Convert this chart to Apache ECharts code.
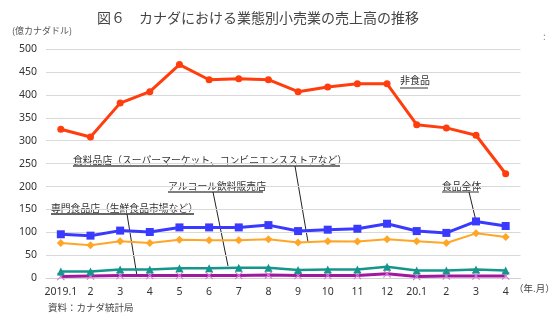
<!DOCTYPE html>
<html><head><meta charset="utf-8">
<script src="https://cdn.jsdelivr.net/npm/echarts@6/dist/echarts.min.js"></script>
<style>html,body{margin:0;padding:0;background:#fff}#c{width:550px;height:322px}</style>
</head><body><div id="c"></div>
<script>
const categories = ['2019.1','2','3','4','5','6','7','8','9','10','11','12','20.1','2','3','4'];
const nonFood   = [325,308,382,407,466,433,435,433,407,417,424,424,335,328,312,228];
const foodTotal = [96,93,104,101,111,111,111,116,103,106,108,119,103,99,124,114];
const foodStore = [77,72,81,77,84,83,83,85,78,81,80,85,81,77,98,90];
const alcohol   = [15,15,19,19,22,22,23,23,18,19,19,25,17,17,19,17];
const specialty = [4,5,6,6,6,6,6,7,6,6,6,10,4,5,5,5];
const yTicks = [0,50,100,150,200,250,300,350,400,450,500];

const JP = '"Noto Sans CJK JP", sans-serif';
const chart = echarts.init(document.getElementById('c'));
const crossPath = 'path://M0,1L1,0L5,4L9,0L10,1L6,5L10,9L9,10L5,6L1,10L0,9L4,5Z';

function mk(name, data, color, width, symbol, size, z, symColor){
  return {name, type:'line', data, z, symbol, symbolSize:size,
    lineStyle:{color, width}, itemStyle:{color: symColor||color, borderWidth:0},
    emphasis:{disabled:true}, animation:false};
}

chart.setOption({
  animation:false,
  grid:{left:46, right:29.5, top:49, bottom:43.7},
  xAxis:{type:'category', data:categories, boundaryGap:true,
    axisLine:{lineStyle:{color:'#d0d0d0'}}, axisTick:{show:false},
    axisLabel:{color:'#333', fontSize:10.5, fontFamily:'"Noto Sans", sans-serif', margin:8, interval:0}},
  yAxis:{type:'value', min:yTicks[0], max:yTicks[yTicks.length-1], interval:50,
    axisLine:{show:false}, axisTick:{show:false},
    splitLine:{lineStyle:{color:'#d9d9d9'}},
    axisLabel:{color:'#333', fontSize:10.5, fontFamily:'"Noto Sans", sans-serif', margin:9}},
  series:[
    mk('非食品', nonFood, '#ff3d0d', 3, 'circle', 7, 5),
    mk('食品全体', foodTotal, '#3a3aff', 3, 'rect', 8, 5),
    mk('食料品店', foodStore, '#ffa626', 2, 'diamond', 8, 4),
    mk('アルコール飲料販売店', alcohol, '#14968c', 2.5, 'triangle', 8, 3),
    mk('専門食品店', specialty, '#a0189f', 3, crossPath, 8, 2, '#d27bd2'),
  ],
  graphic:[
    {type:'text', x:97, y:11, style:{text:'図６　カナダにおける業態別小売業の売上高の推移', font:'14px '+JP, fill:'#444'}},
    {type:'text', x:12, y:26, style:{text:'(億カナダドル)', font:'9px '+JP, fill:'#555'}},
    {type:'text', x:543, y:31, style:{text:':', font:'10px '+JP, fill:'#888'}},
    {type:'text', x:514, y:284, style:{text:'（年.月）', font:'9.5px '+JP, fill:'#444'}},
    {type:'text', x:48, y:303, style:{text:'資料：カナダ統計局', font:'9.5px '+JP, fill:'#444'}},
    // annotations
    {type:'text', x:400, y:75, style:{text:'非食品', font:'10px '+JP, fill:'#333'}},
    {type:'line', shape:{x1:400,y1:88,x2:428,y2:88}, style:{stroke:'#333', lineWidth:1}},
    {type:'text', x:73, y:155, style:{text:'食料品店（スーパーマーケット、コンビニエンスストアなど）', font:'9.8px '+JP, fill:'#333'}},
    {type:'line', shape:{x1:73,y1:166,x2:340,y2:166}, style:{stroke:'#777', lineWidth:2}},
    {type:'line', shape:{x1:295,y1:166,x2:308,y2:242}, style:{stroke:'#222', lineWidth:1}},
    {type:'text', x:168, y:181, style:{text:'アルコール飲料販売店', font:'9.8px '+JP, fill:'#333'}},
    {type:'line', shape:{x1:168,y1:192,x2:263,y2:192}, style:{stroke:'#555', lineWidth:1.5}},
    {type:'line', shape:{x1:213,y1:192,x2:228,y2:266}, style:{stroke:'#222', lineWidth:1}},
    {type:'text', x:51, y:203, style:{text:'専門食品店（生鮮食品市場など）', font:'9.8px '+JP, fill:'#333'}},
    {type:'line', shape:{x1:51,y1:214,x2:194,y2:214}, style:{stroke:'#333', lineWidth:1.5}},
    {type:'line', shape:{x1:127,y1:214,x2:137,y2:276}, style:{stroke:'#222', lineWidth:1}},
    {type:'text', x:442, y:181, style:{text:'食品全体', font:'9.8px '+JP, fill:'#333'}},
    {type:'line', shape:{x1:442,y1:192,x2:479,y2:192}, style:{stroke:'#333', lineWidth:1}},
    {type:'line', shape:{x1:469,y1:192,x2:476,y2:221}, style:{stroke:'#222', lineWidth:1}}
  ]
});
</script></body></html>
